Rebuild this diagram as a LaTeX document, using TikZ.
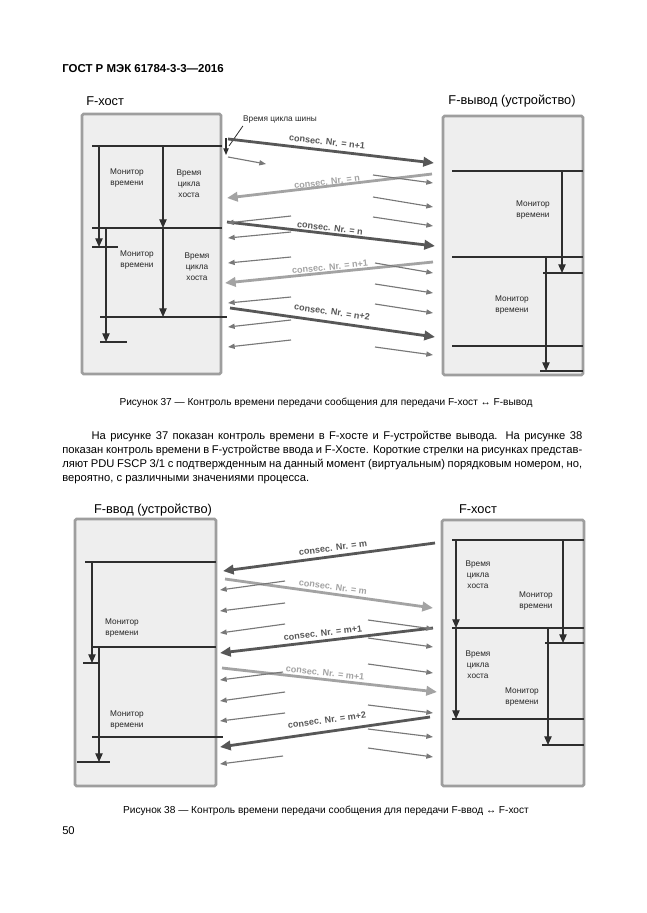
\documentclass[tikz,border=0pt]{standalone}
\usepackage{fontspec}
\setmainfont{Liberation Sans}
\usetikzlibrary{arrows.meta}
\definecolor{boxfill}{gray}{0.935}
\definecolor{boxline}{gray}{0.62}
\definecolor{darkarr}{gray}{0.34}
\definecolor{lightarr}{gray}{0.64}
\definecolor{thinarr}{gray}{0.47}
\definecolor{lineblk}{gray}{0.18}
\tikzset{
  pagebox/.style={fill=boxfill, draw=boxline, line width=2pt, rounded corners=1.2pt},
  thickd/.style={line width=2.1pt, draw=darkarr, -{Triangle[length=8pt,width=7pt]}},
  thickl/.style={line width=2.1pt, draw=lightarr, -{Triangle[length=8pt,width=7pt]}},
  thinar/.style={line width=0.85pt, draw=thinarr, -{Triangle[length=5pt,width=3.8pt]}},
  hline/.style={line width=0.95pt, draw=lineblk},
  varrow/.style={line width=0.95pt, draw=lineblk, -{Triangle[length=6.5pt,width=5.5pt]}},
  lbl/.style={font=\fontsize{6.2}{8.2}\selectfont, align=center, text=black!85, inner sep=0pt},
  consd/.style={font=\bfseries\fontsize{6.8}{7.5}\selectfont, text=darkarr, inner sep=0pt},
  consl/.style={font=\bfseries\fontsize{6.8}{7.5}\selectfont, text=lightarr, inner sep=0pt},
  ttl/.style={font=\fontsize{9.6}{11}\selectfont, inner sep=0pt},
  capt/.style={font=\fontsize{7.6}{9}\selectfont, inner sep=0pt},
}
\newcommand{\conn}[4]{\coordinate (#2s) at (#3); \coordinate (#2e) at (#4); \draw[#1] (#2s) -- (#2e);}
\begin{document}
\begin{tikzpicture}[x=0.75pt,y=-0.75pt]
\useasboundingbox (0,0) rectangle (646,913);
\fill[white] (0,0) rectangle (646,913);

% header
\node[anchor=west, inner sep=0pt, font=\bfseries\fontsize{8.6}{10}\selectfont] (hdr) at (62,69) {ГОСТ Р МЭК 61784-3-3—2016};

% ================= Figure 37 =================
\node[ttl, anchor=west] (t37l) at (86,101) {F-хост};
\node[ttl] (t37r) at (512,101) {F-вывод (устройство)};
\draw[pagebox] (82,114) rectangle (221,374);
\draw[pagebox] (443,116) rectangle (583,375);

% left box
\conn{hline}{a1}{92,146}{222,146}
\conn{varrow}{a2}{99,146}{99,247}
\conn{hline}{a3}{92,247}{118,247}
\conn{varrow}{a4}{163,146}{163,228}
\conn{hline}{a5}{92,228}{222,228}
\conn{varrow}{a6}{106,228}{106,342}
\conn{hline}{a7}{100,342}{127,342}
\conn{varrow}{a8}{163,228}{163,317}
\conn{hline}{a9}{100,317}{227,317}
\node[lbl] (m1) at (127,178) {Монитор\\времени};
\node[lbl] (c1) at (189,184) {Время\\цикла\\хоста};
\node[lbl] (m2) at (137,260) {Монитор\\времени};
\node[lbl] (c2) at (197,267) {Время\\цикла\\хоста};

% right box
\conn{hline}{b1}{452,171}{583,171}
\conn{varrow}{b2}{562,171}{562,273}
\conn{hline}{b3}{543,273}{583,273}
\conn{hline}{b4}{452,257}{583,257}
\conn{varrow}{b5}{546,257}{546,371}
\conn{hline}{b6}{540,371}{583,371}
\conn{hline}{b7}{452,346}{583,346}
\node[lbl] (m3) at (533,210) {Монитор\\времени};
\node[lbl] (m4) at (512,305) {Монитор\\времени};

% bus cycle bracket
\node[lbl] (bus) at (280,120) {Время цикла шины};
\coordinate (bracktop) at (226,138);
\coordinate (brackbot) at (226,155);
\draw[line width=0.8pt, draw=lineblk, -{Triangle[length=5pt,width=4pt]}] (bracktop) -- (brackbot);
\coordinate (busfoot) at (229,146);
\draw[line width=0.6pt, draw=lineblk] (bus.south west) ++(0,2) coordinate (buslead) (buslead) -- (busfoot);

% thick arrows fig 37
\conn{thickd}{k1}{228,139}{434,163}
\conn{thickl}{k2}{432,174}{227,198}
\conn{thickd}{k3}{227,222}{435,246}
\conn{thickl}{k4}{433,262}{225,283}
\conn{thickd}{k5}{230,308}{435,337}
\node[consd, rotate=-6.4] (l1) at (327,142) {consec. Nr. = n+1};
\node[consl, rotate=6.7] (l2) at (327,182) {consec. Nr. = n};
\node[consd, rotate=-6.6] (l3) at (330,228) {consec. Nr. = n};
\node[consl, rotate=5.8] (l4) at (330,267) {consec. Nr. = n+1};
\node[consd, rotate=-8.0] (l5) at (332,312) {consec. Nr. = n+2};

% thin arrows fig 37
\conn{thinar}{p1}{291,216}{227,223}
\conn{thinar}{p2}{291,232}{228,238}
\conn{thinar}{p3}{291,257}{228,263}
\conn{thinar}{p4}{291,297}{228,303}
\conn{thinar}{p5}{291,320}{228,327}
\conn{thinar}{p6}{291,340}{228,347}
\conn{thinar}{q1}{228,157}{266,164}
\conn{thinar}{q2}{373,175}{433,183}
\conn{thinar}{q3}{373,197}{433,207}
\conn{thinar}{q4}{373,217}{433,226}
\conn{thinar}{q5}{375,263}{433,273}
\conn{thinar}{q6}{375,284}{433,293}
\conn{thinar}{q7}{375,304}{433,313}
\conn{thinar}{q8}{375,347}{433,355}

\node[capt] (cap37) at (326,403) {Рисунок 37 — Контроль времени передачи сообщения для передачи F-хост ↔ F-вывод};

% body text
\node[anchor=north west, align=left, inner sep=0pt, font=\fontsize{8.4}{10.5}\selectfont] (body) at (62,431) {%
\makebox[390pt][s]{\hspace{22pt}На рисунке 37 показан контроль времени в F-хосте и F-устройстве вывода. На рисунке 38}\\
\makebox[390pt][s]{показан контроль времени в F-устройстве ввода и F-Хосте. Короткие стрелки на рисунках представ-}\\
\makebox[390pt][s]{ляют PDU FSCP 3/1 с подтвержденным на данный момент (виртуальным) порядковым номером, но,}\\
вероятно, с различными значениями процесса.};

% ================= Figure 38 =================
\node[ttl] (t38l) at (153,510) {F-ввод (устройство)};
\node[ttl] (t38r) at (478,509) {F-хост};
\draw[pagebox] (75,519) rectangle (216,786);
\draw[pagebox] (442,520) rectangle (584,786);

% left box
\conn{hline}{c1}{85,562}{216,562}
\conn{varrow}{c2}{92,562}{92,663}
\conn{hline}{c3}{83,663}{98,663}
\conn{hline}{c4}{92,647}{216,647}
\conn{varrow}{c5}{99,647}{99,762}
\conn{hline}{c6}{77,762}{110,762}
\conn{hline}{c7}{92,737}{223,737}
\node[lbl] (m5) at (122,628) {Монитор\\времени};
\node[lbl] (m6) at (127,720) {Монитор\\времени};

% right box
\conn{hline}{d1}{452,540}{584,540}
\conn{varrow}{d2}{456,540}{456,628}
\conn{varrow}{d3}{563,540}{563,643}
\conn{hline}{d4}{545,643}{584,643}
\conn{hline}{d5}{452,628}{584,628}
\conn{varrow}{d6}{456,628}{456,719}
\conn{varrow}{d7}{548,628}{548,745}
\conn{hline}{d8}{542,745}{584,745}
\conn{hline}{d9}{452,719}{584,719}
\node[lbl] (c3l) at (478,575) {Время\\цикла\\хоста};
\node[lbl] (m7) at (536,601) {Монитор\\времени};
\node[lbl] (c4l) at (478,665) {Время\\цикла\\хоста};
\node[lbl] (m8) at (522,697) {Монитор\\времени};

% thick arrows fig 38
\conn{thickd}{r1}{435,543}{223,571}
\conn{thickl}{r2}{225,579}{433,608}
\conn{thickd}{r3}{433,628}{220,653}
\conn{thickl}{r4}{222,668}{437,692}
\conn{thickd}{r5}{430,717}{220,747}
\node[consd, rotate=7.5] (n1) at (333,548) {consec. Nr. = m};
\node[consl, rotate=-7.9] (n2) at (333,587) {consec. Nr. = m};
\node[consd, rotate=6.7] (n3) at (323,633) {consec. Nr. = m+1};
\node[consl, rotate=-6.4] (n4) at (325,673) {consec. Nr. = m+1};
\node[consd, rotate=8.1] (n5) at (327,720) {consec. Nr. = m+2};

% thin arrows fig 38
\conn{thinar}{s1}{285,581}{220,590}
\conn{thinar}{s2}{285,603}{220,611}
\conn{thinar}{s3}{285,624}{220,633}
\conn{thinar}{s4}{283,672}{220,680}
\conn{thinar}{s5}{285,692}{220,701}
\conn{thinar}{s6}{285,713}{220,721}
\conn{thinar}{s7}{283,756}{220,764}
\conn{thinar}{u1}{368,620}{433,629}
\conn{thinar}{u2}{368,638}{433,647}
\conn{thinar}{u3}{368,664}{433,673}
\conn{thinar}{u4}{368,705}{433,713}
\conn{thinar}{u5}{368,729}{433,737}
\conn{thinar}{u6}{368,748}{433,757}

\node[capt] (cap38) at (326,811) {Рисунок 38 — Контроль времени передачи сообщения для передачи F-ввод ↔ F-хост};
\node[anchor=west, inner sep=0pt, font=\fontsize{8.4}{10}\selectfont] (pgno) at (62,831) {50};
\end{tikzpicture}
\end{document}
